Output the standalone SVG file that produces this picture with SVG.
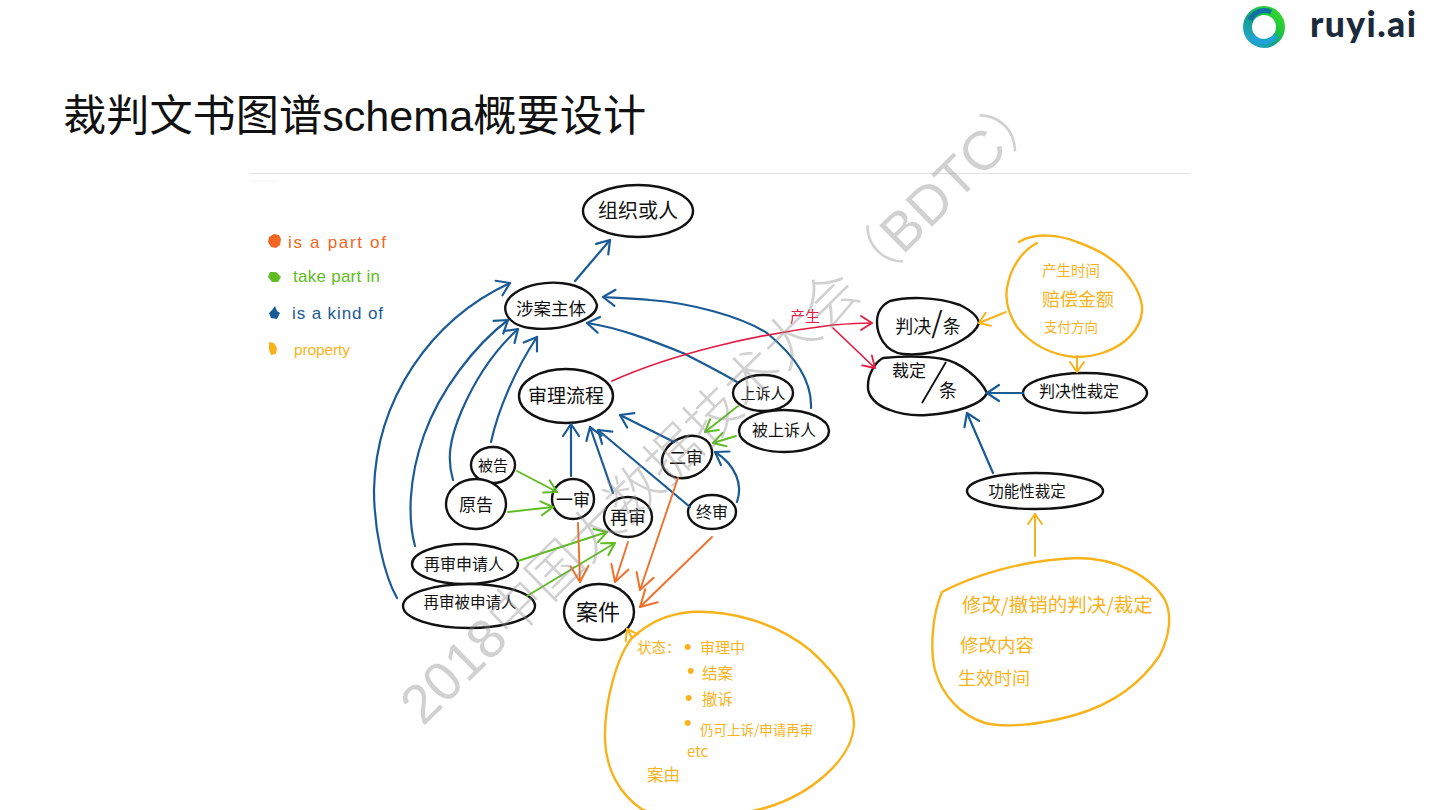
<svg xmlns="http://www.w3.org/2000/svg" width="1440" height="810" viewBox="0 0 1440 810">
<style>
text{font-family:"Noto Sans CJK SC","Liberation Sans",sans-serif;}
.nd{fill:#fff;stroke:#111;stroke-width:2.4;stroke-linecap:round}
.t{fill:#111;text-anchor:middle;font-weight:400}
.y{fill:#f8b31c;font-weight:400}
.dot{fill:#f8b31c;font-family:"Liberation Sans",sans-serif;font-size:22px}
.blob{fill:none;stroke:#f8b31c;stroke-width:2.4;stroke-linecap:round}
.b,.g,.o,.r,.a{fill:none;stroke-linecap:round;stroke-linejoin:round}
.b{stroke:#1a5b96;stroke-width:2.2;marker-end:url(#mb)}
.g{stroke:#5fbc22;stroke-width:1.9;marker-end:url(#mg)}
.o{stroke:#f0702a;stroke-width:1.9;marker-end:url(#mo)}
.r{stroke:#e31b42;stroke-width:1.7;marker-end:url(#mr)}
.a{stroke:#f8b31c;stroke-width:2;marker-end:url(#ma)}
.leg{font-family:"Liberation Sans",sans-serif;font-size:17px}
</style>
<defs>
<marker id="mb" markerUnits="userSpaceOnUse" markerWidth="24" markerHeight="24" refX="16" refY="12" orient="auto"><path d="M4 4L16 12L4 20" fill="none" stroke="#1a5b96" stroke-width="2.2" stroke-linecap="round" stroke-linejoin="round"/></marker>
<marker id="mg" markerUnits="userSpaceOnUse" markerWidth="24" markerHeight="24" refX="16" refY="12" orient="auto"><path d="M4 5L16 12L4 19" fill="none" stroke="#5fbc22" stroke-width="2" stroke-linecap="round" stroke-linejoin="round"/></marker>
<marker id="mo" markerUnits="userSpaceOnUse" markerWidth="28" markerHeight="28" refX="20" refY="14" orient="auto"><path d="M4 5L20 14L4 23" fill="none" stroke="#f0702a" stroke-width="2" stroke-linecap="round" stroke-linejoin="round"/></marker>
<marker id="mr" markerUnits="userSpaceOnUse" markerWidth="24" markerHeight="24" refX="16" refY="12" orient="auto"><path d="M5 5L16 12L5 19" fill="none" stroke="#e31b42" stroke-width="1.8" stroke-linecap="round" stroke-linejoin="round"/></marker>
<marker id="ma" markerUnits="userSpaceOnUse" markerWidth="24" markerHeight="24" refX="16" refY="12" orient="auto"><path d="M6 5L16 12L6 19" fill="none" stroke="#f8b31c" stroke-width="2" stroke-linecap="round" stroke-linejoin="round"/></marker>
<linearGradient id="lg" x1="0" y1="1" x2="1" y2="0"><stop offset="0" stop-color="#2aa5d8"/><stop offset=".4" stop-color="#12a08c"/><stop offset=".7" stop-color="#22c83c"/><stop offset="1" stop-color="#39d82c"/></linearGradient>
</defs>
<rect width="1440" height="810" fill="#fff"/>

<g id="logo">
<circle cx="1264" cy="27" r="16.5" fill="none" stroke="url(#lg)" stroke-width="9"/>
<path d="M1250 20A16 16 0 0 1 1271 12" fill="none" stroke="#0f6fa6" stroke-width="5"/>
<path d="M1252 36A15 15 0 0 0 1276 36" fill="none" stroke="#1fa2d6" stroke-width="5"/>
<text x="1310" y="37" font-size="35.500" font-weight="900" fill="#1c2b3c" style="font-family:Lato,'Liberation Sans',sans-serif" letter-spacing="1.400">ruyi.ai</text>
</g>
<text id="title" x="63" y="131" font-size="43.200" fill="#111" style="font-family:'Liberation Sans','Noto Sans CJK SC',sans-serif">裁判文书图谱schema概要设计</text>

<path d="M250 173.500H1190" stroke="#e2e2e2" stroke-width="1"/>
<path d="M251 181H277" stroke="#f2f2f2" stroke-width="1"/>

<g id="legend">
<path d="M274 234l5 1 2 4-1 6-4 3-5-1-3-5 1-5z" fill="#f26522"/>
<text class="leg" x="288" y="248" fill="#f26522" textLength="98">is a part of</text>
<path d="M270 272l6 0 5 5-3 5-6 0-4-5z" fill="#5fbc22"/>
<text class="leg" x="293" y="282" fill="#5fbc22" textLength="87">take part in</text>
<path d="M275 306l2 5 3 2-3 6-6-1-2-5 3-3z" fill="#1a5b96"/>
<text class="leg" x="292" y="319" fill="#1a5b96" textLength="91">is a kind of</text>
<path d="M269 342l5 1 3 5-1 6-5 1-2-5z" fill="#f8b31c"/>
<text class="leg" x="294" y="355" fill="#f8b31c" style="font-size:15.500px" textLength="56">property</text>
</g>

<g id="node-org"><ellipse class="nd" cx="638" cy="211" rx="55" ry="26"/><text class="t" x="638" y="218" font-size="20">组织或人</text></g>
<g id="node-subject"><path class="nd" d="M515 293C540 276 590 280 597 305C597 320 560 332 530 328C505 325 497 305 515 293Z"/><text class="t" x="551" y="315" font-size="17.500">涉案主体</text></g>
<g id="node-process"><ellipse class="nd" cx="566" cy="396" rx="47" ry="27"/><text class="t" x="566" y="403" font-size="19">审理流程</text></g>
<g id="node-defendant"><ellipse class="nd" cx="493" cy="465" rx="22" ry="18"/><text class="t" x="493" y="471" font-size="15">被告</text></g>
<g id="node-plaintiff"><ellipse class="nd" cx="476" cy="504" rx="30" ry="25"/><text class="t" x="476" y="511" font-size="17">原告</text></g>
<g id="node-first"><ellipse class="nd" cx="573" cy="499" rx="21" ry="20"/><text class="t" x="573" y="506" font-size="17">一审</text></g>
<g id="node-retrial"><ellipse class="nd" cx="628" cy="517" rx="24" ry="20"/><text class="t" x="628" y="524" font-size="18">再审</text></g>
<g id="node-final"><ellipse class="nd" cx="712" cy="512" rx="24" ry="17"/><text class="t" x="712" y="518" font-size="16">终审</text></g>
<g id="node-second"><ellipse class="nd" cx="687" cy="457" rx="26" ry="20" transform="rotate(-25 687 457)"/><text class="t" x="686" y="464" font-size="17">二审</text></g>
<g id="node-appellant"><ellipse class="nd" cx="763" cy="393" rx="30" ry="18"/><text class="t" x="763" y="399" font-size="15">上诉人</text></g>
<g id="node-appellee"><ellipse class="nd" cx="784" cy="431" rx="45" ry="21"/><text class="t" x="784" y="436" font-size="16">被上诉人</text></g>
<g id="node-applicant"><ellipse class="nd" cx="465" cy="564" rx="53" ry="20"/><text class="t" x="464" y="570" font-size="16">再审申请人</text></g>
<g id="node-respondent"><ellipse class="nd" cx="469" cy="606" rx="66" ry="22"/><text class="t" x="470" y="608" font-size="15.500">再审被申请人</text></g>
<g id="node-case"><ellipse class="nd" cx="599" cy="612" rx="35" ry="28"/><text class="t" x="598" y="620" font-size="22">案件</text></g>
<g id="node-judgment"><path class="nd" d="M890 301C905 297 935 296 960 305C970 310 978 316 979 323C975 335 955 346 933 352C920 355 912 355 903 354C885 352 877 335 877 322C877 312 882 305 890 301Z"/><text class="t" x="928" y="333" font-size="18">判决<tspan font-size="29">/</tspan>条</text></g>
<g id="node-ruling"><path class="nd" d="M883 358C905 356 925 356 943 359C960 362 980 378 987 393C982 405 955 413 927 415C910 416 900 414 890 410C875 405 867 395 868 385C868 375 875 362 883 358Z"/><text class="t" x="909" y="377" font-size="17">裁定</text><path d="M946 362L922 403" stroke="#111" stroke-width="1.800" fill="none"/><text class="t" x="948" y="397" font-size="18">条</text></g>
<g id="node-jruling"><ellipse class="nd" cx="1085" cy="393" rx="62" ry="20"/><text class="t" x="1079" y="397" font-size="16">判决性裁定</text></g>
<g id="node-fruling"><ellipse class="nd" cx="1035" cy="491" rx="68" ry="18"/><text class="t" x="1027" y="497" font-size="15.500">功能性裁定</text></g>

<g id="prop-judgment"><path class="blob" d="M1019 242C1035 232 1060 235 1077 242C1100 250 1115 260 1125 272C1138 288 1143 300 1142 312C1140 330 1125 345 1105 352C1095 356 1085 357 1075 357C1050 355 1030 343 1017 327C1008 313 1005 300 1007 288C1010 270 1020 252 1037 243"/>
<text class="y" x="1042" y="276" font-size="14.500">产生时间</text><text class="y" x="1042" y="306" font-size="18">赔偿金额</text><text class="y" x="1044" y="332" font-size="13.500">支付方向</text></g>
<g id="prop-case"><path class="blob" d="M632 638C650 622 665 615 690 612C730 610 775 622 810 650C838 675 854 700 854 725C852 760 810 795 765 808C730 818 670 818 643 810C620 795 606 770 605 740C604 700 618 655 632 638Z"/>
<text class="y" x="637" y="653" font-size="14.500">状态：</text><text class="dot" x="684" y="654">•</text><text class="y" x="700" y="653" font-size="15">审理中</text>
<text class="dot" x="687" y="678">•</text><text class="y" x="702" y="679" font-size="15.500">结案</text>
<text class="dot" x="685" y="705">•</text><text class="y" x="702" y="705" font-size="15.500">撤诉</text>
<text class="dot" x="684" y="730">•</text><text class="y" x="700" y="735" font-size="13.500">仍可上诉/申请再审</text>
<text class="y" x="687" y="757" font-size="15">etc</text><text class="y" x="647" y="781" font-size="16.500">案由</text></g>
<g id="prop-fruling"><path class="blob" d="M942 592C970 577 1020 560 1077 558C1115 558 1150 575 1165 600C1172 615 1170 635 1160 655C1140 685 1110 705 1075 715C1040 725 1005 728 985 723C960 715 942 695 935 670C930 650 932 615 942 592Z"/>
<text class="y" x="962" y="612" font-size="19.500">修改/撤销的判决/裁定</text><text class="y" x="960" y="652" font-size="18.500">修改内容</text><text class="y" x="958" y="685" font-size="18">生效时间</text></g>

<g id="connectors">
<path class="b" d="M575 281L610 240"/>
<path class="b" d="M397 598C384 575 374 530 374 490C376 400 430 320 510 283"/>
<path class="b" d="M415 546C408 520 408 480 424 435C440 390 475 345 508 320"/>
<path class="b" d="M453 480C447 460 449 440 462 410C475 380 495 350 518 329"/>
<path class="b" d="M491 442C498 410 515 370 537 337"/>
<path class="b" d="M571 476L571 424"/>
<path class="b" d="M613 493L590 427"/>
<path class="b" d="M690 507L598 430"/>
<path class="b" d="M674 442L620 415"/>
<path class="b" d="M737 382C720 372 700 362 683 353C650 340 620 328 587 323"/>
<path class="b" d="M811 408C812 385 800 360 767 333C740 316 690 303 650 300C630 298 618 298 603 297"/>
<path class="b" d="M737 502C743 485 736 465 715 452"/>
<path class="b" d="M993 473L967 413"/>
<path class="b" d="M1023 393L987 393"/>
<path class="g" d="M517 471L557 492"/>
<path class="g" d="M508 512L553 507"/>
<path class="g" d="M518 561L607 532"/>
<path class="g" d="M527 596L615 543"/>
<path class="g" d="M738 406L705 432"/>
<path class="g" d="M736 436L713 443"/>
<path class="o" d="M578 523L580 582"/>
<path class="o" d="M628 542L615 582"/>
<path class="o" d="M678 478L640 590"/>
<path class="o" d="M712 537L640 607"/>
<path class="r" d="M612 381C670 355 750 335 833 325C845 324 860 323 872 323"/>
<path class="r" d="M833 328L875 368"/>
<text x="790" y="322" font-size="15" fill="#e31b42" font-weight="400">产生</text>
<path class="a" d="M1006 312L979 323"/>
<path class="a" d="M1077 356L1077 372"/>
<path class="a" d="M1035 556L1035 514"/>
<path class="a" d="M632 638L627 629"/>
</g>

<text id="watermark" x="0" y="0" transform="translate(423 727) rotate(-44.500)" font-size="55" fill="#8c8c8c" fill-opacity=".4" font-weight="300" style="font-family:'Liberation Sans','Noto Sans CJK SC',sans-serif">2018中国大数据技术大会（BDTC）</text>
</svg>
